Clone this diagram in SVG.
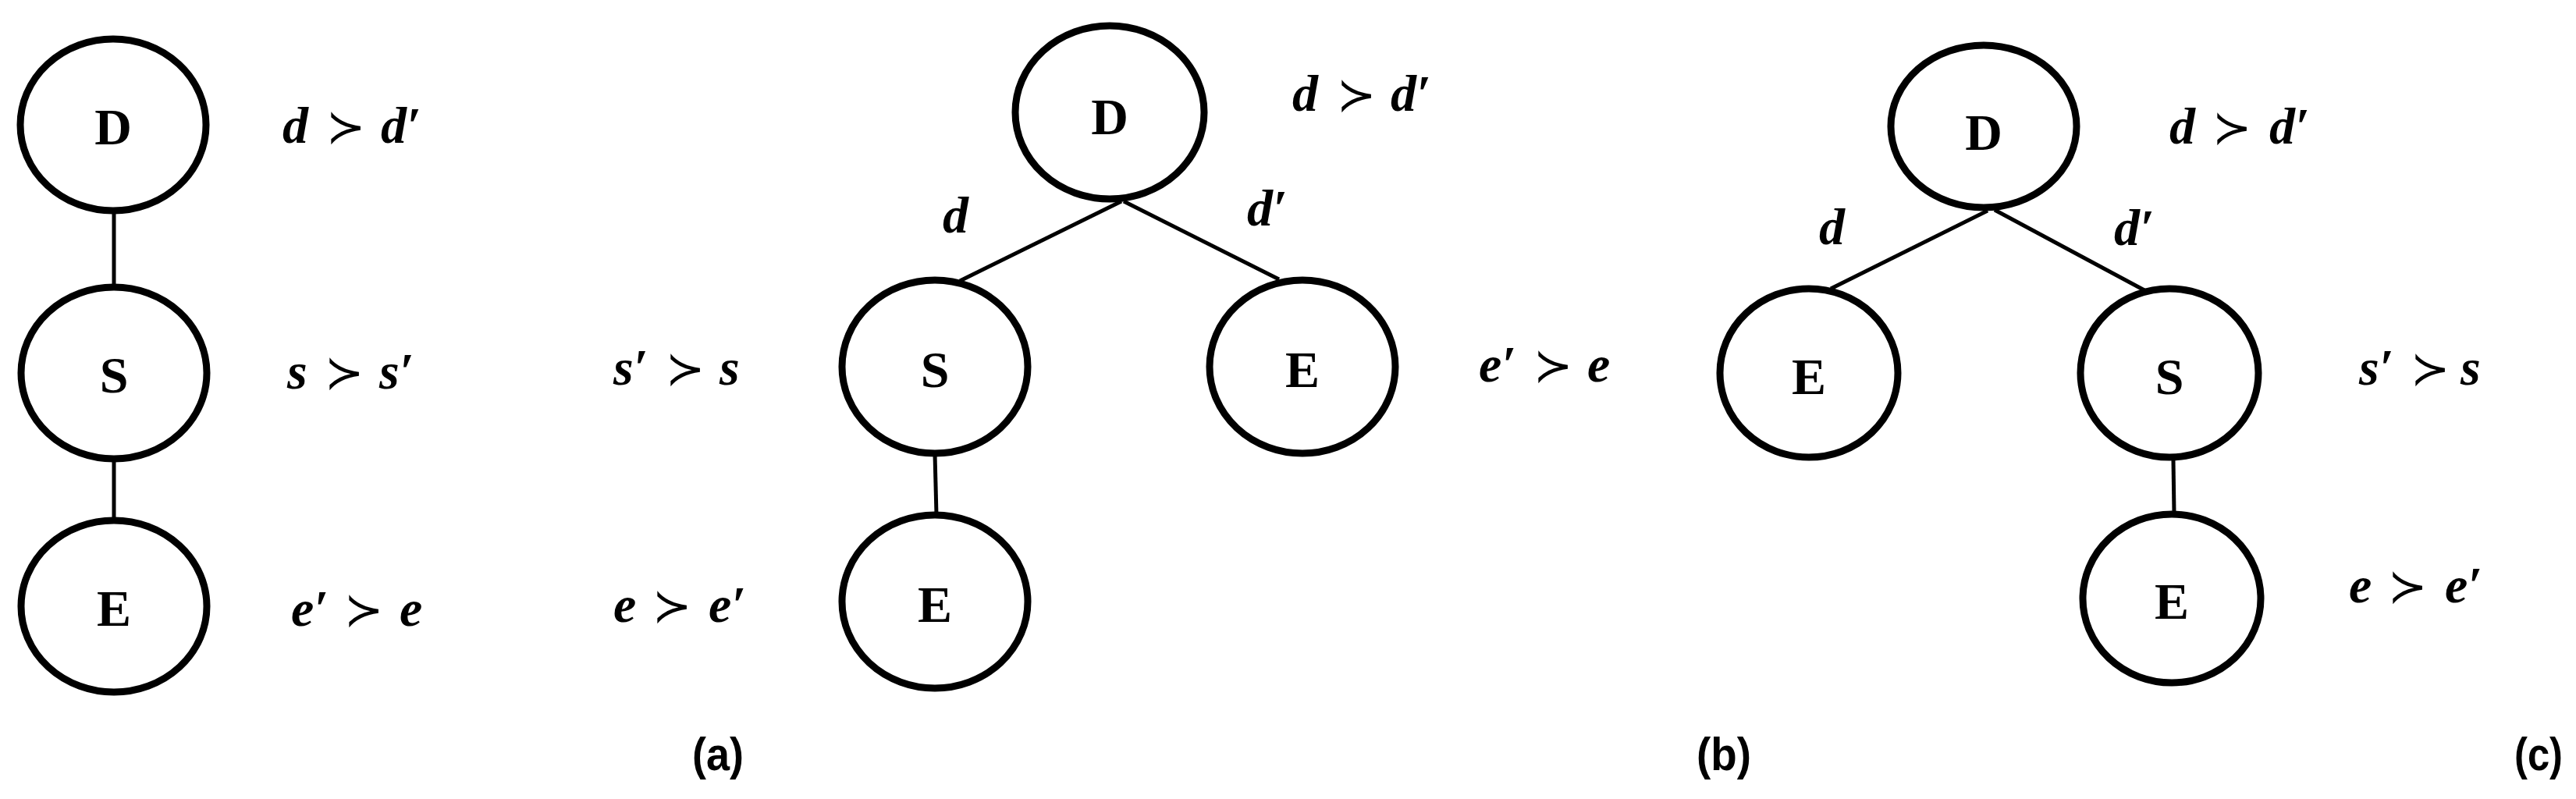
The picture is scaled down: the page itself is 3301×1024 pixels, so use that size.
<svg xmlns="http://www.w3.org/2000/svg" width="3301" height="1024" viewBox="0 0 3301 1024">
<style>
.node ellipse{fill:#fff;stroke:#000;stroke-width:9}
.lbl{font-family:"Liberation Serif","DejaVu Serif",serif;font-weight:bold;font-size:66px;text-anchor:middle;fill:#000}
.rel{font-family:"Liberation Serif","DejaVu Serif",serif;font-style:italic;font-weight:bold;font-size:66px;fill:#000}
.op{font-family:"DejaVu Sans",sans-serif;font-style:normal;font-weight:normal;font-size:60px}
.edge{font-family:"Liberation Serif","DejaVu Serif",serif;font-style:italic;font-weight:bold;font-size:66px;fill:#000}
.cap{font-family:"Liberation Sans",Arial,sans-serif;font-weight:bold;font-size:60px;text-anchor:middle;fill:#000}
#connectors line{stroke:#000;stroke-width:5}
</style>
<rect width="3301" height="1024" fill="#fff"/>
<g id="connectors">
<line x1="146" y1="270" x2="146" y2="368"/>
<line x1="146" y1="588" x2="146" y2="667"/>
<line x1="1437" y1="258" x2="1230" y2="360"/>
<line x1="1440" y1="258" x2="1639" y2="358"/>
<line x1="1198" y1="582" x2="1200" y2="660"/>
<line x1="2547" y1="270" x2="2346" y2="370"/>
<line x1="2556" y1="269" x2="2748" y2="372"/>
<line x1="2785" y1="590" x2="2786" y2="657"/>
</g>
<g id="a_D" class="node"><ellipse cx="145" cy="160" rx="119" ry="110"/><text class="lbl" x="145" y="185">D</text></g>
<g id="a_S" class="node"><ellipse cx="146" cy="478" rx="119" ry="110"/><text class="lbl" x="146" y="503">S</text></g>
<g id="a_E" class="node"><ellipse cx="146" cy="777" rx="119" ry="110"/><text class="lbl" x="146" y="802">E</text></g>
<g id="b_D" class="node"><ellipse cx="1422" cy="144" rx="121" ry="111"/><text class="lbl" x="1422" y="172">D</text></g>
<g id="b_S" class="node"><ellipse cx="1198" cy="470" rx="119" ry="111"/><text class="lbl" x="1198" y="496">S</text></g>
<g id="b_E1" class="node"><ellipse cx="1669" cy="470" rx="119" ry="111"/><text class="lbl" x="1669" y="496">E</text></g>
<g id="b_E2" class="node"><ellipse cx="1198" cy="771" rx="119" ry="111"/><text class="lbl" x="1198" y="797">E</text></g>
<g id="c_D" class="node"><ellipse cx="2542" cy="162" rx="119" ry="104"/><text class="lbl" x="2542" y="192">D</text></g>
<g id="c_E1" class="node"><ellipse cx="2318" cy="478" rx="114" ry="108"/><text class="lbl" x="2318" y="505">E</text></g>
<g id="c_S" class="node"><ellipse cx="2780" cy="478" rx="114" ry="108"/><text class="lbl" x="2780" y="505">S</text></g>
<g id="c_E2" class="node"><ellipse cx="2783" cy="767" rx="114" ry="108"/><text class="lbl" x="2783" y="793">E</text></g>
<g id="texts">
<text class="rel" y="183"><tspan x="362">d</tspan><tspan class="op" x="418">≻</tspan><tspan x="488">d′</tspan></text>
<text class="rel" y="498"><tspan x="368">s</tspan><tspan class="op" x="416">≻</tspan><tspan x="486">s′</tspan></text>
<text class="rel" y="802"><tspan x="373">e′</tspan><tspan class="op" x="441">≻</tspan><tspan x="512">e</tspan></text>
<text class="rel" y="493"><tspan x="786">s′</tspan><tspan class="op" x="853">≻</tspan><tspan x="922">s</tspan></text>
<text class="rel" y="797"><tspan x="786">e</tspan><tspan class="op" x="836">≻</tspan><tspan x="908">e′</tspan></text>
<text class="rel" y="142"><tspan x="1656">d</tspan><tspan class="op" x="1713">≻</tspan><tspan x="1782">d′</tspan></text>
<text class="rel" y="489"><tspan x="1895">e′</tspan><tspan class="op" x="1965">≻</tspan><tspan x="2034">e</tspan></text>
<text class="rel" y="184"><tspan x="2780">d</tspan><tspan class="op" x="2835">≻</tspan><tspan x="2908">d′</tspan></text>
<text class="rel" y="493"><tspan x="3023">s′</tspan><tspan class="op" x="3089">≻</tspan><tspan x="3153">s</tspan></text>
<text class="rel" y="772"><tspan x="3010">e</tspan><tspan class="op" x="3060">≻</tspan><tspan x="3133">e′</tspan></text>
<text class="edge" x="1208" y="298">d</text>
<text class="edge" x="1598" y="289">d′</text>
<text class="edge" x="2331" y="313">d</text>
<text class="edge" x="2709" y="314">d′</text>
<text class="cap" x="920" y="987" textLength="66" lengthAdjust="spacingAndGlyphs">(a)</text>
<text class="cap" x="2209" y="987" textLength="70" lengthAdjust="spacingAndGlyphs">(b)</text>
<text class="cap" x="3253" y="987" textLength="62" lengthAdjust="spacingAndGlyphs">(c)</text>
</g>
</svg>
